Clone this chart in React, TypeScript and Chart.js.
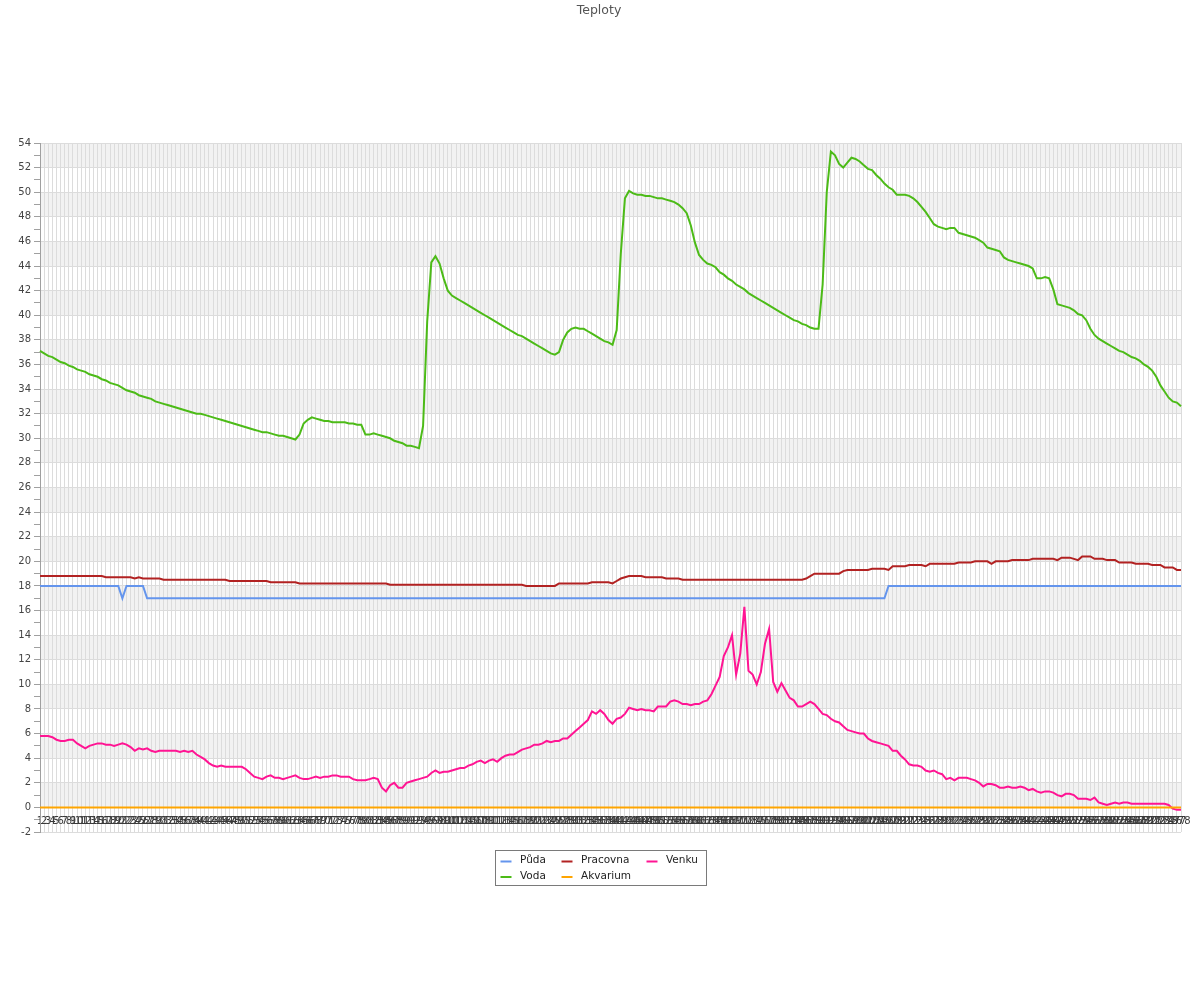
import { useEffect, useRef } from "react";
import { Chart, registerables } from "chart.js";

Chart.register(...registerables);

const TITLE = "Teploty";
const Y_MIN = -2;
const Y_MAX = 54;
const LABELS: string[] = Array.from({ length: 278 }, (_, i) => String(i + 1));

const PUDA: number[] = [
  18, 18, 18, 18, 18, 18, 18, 18, 18, 18, 18, 18, 18, 18, 18, 18, 18, 18, 18, 18,
  17, 18, 18, 18, 18, 18,
  17, 17, 17, 17, 17, 17, 17, 17, 17, 17, 17, 17, 17, 17, 17, 17, 17, 17, 17, 17,
  17, 17, 17, 17, 17, 17, 17, 17, 17, 17, 17, 17, 17, 17, 17, 17, 17, 17, 17, 17,
  17, 17, 17, 17, 17, 17, 17, 17, 17, 17, 17, 17, 17, 17, 17, 17, 17, 17, 17, 17,
  17, 17, 17, 17, 17, 17, 17, 17, 17, 17, 17, 17, 17, 17, 17, 17, 17, 17, 17, 17,
  17, 17, 17, 17, 17, 17, 17, 17, 17, 17, 17, 17, 17, 17, 17, 17, 17, 17, 17, 17,
  17, 17, 17, 17, 17, 17, 17, 17, 17, 17, 17, 17, 17, 17, 17, 17, 17, 17, 17, 17,
  17, 17, 17, 17, 17, 17, 17, 17, 17, 17, 17, 17, 17, 17, 17, 17, 17, 17, 17, 17,
  17, 17, 17, 17, 17, 17, 17, 17, 17, 17, 17, 17, 17, 17, 17, 17, 17, 17, 17, 17,
  17, 17, 17, 17, 17, 17, 17, 17, 17, 17, 17, 17, 17, 17, 17, 17, 17, 17, 17, 17,
  18, 18, 18, 18, 18, 18, 18, 18, 18, 18, 18, 18, 18, 18, 18, 18, 18, 18, 18, 18,
  18, 18, 18, 18, 18, 18, 18, 18, 18, 18, 18, 18, 18, 18, 18, 18, 18, 18, 18, 18,
  18, 18, 18, 18, 18, 18, 18, 18, 18, 18, 18, 18, 18, 18, 18, 18, 18, 18, 18, 18,
  18, 18, 18, 18, 18, 18, 18, 18, 18, 18, 18, 18,
];

const VODA: number[] = [
  37.1, 36.9, 36.7, 36.6, 36.4, 36.2, 36.1, 35.9, 35.8, 35.6, 35.5,
  35.4, 35.2, 35.1, 35.0, 34.8, 34.7, 34.5, 34.4, 34.3, 34.1,
  33.9, 33.8, 33.7, 33.5, 33.4, 33.3, 33.2, 33.0, 32.9, 32.8,
  32.7, 32.6, 32.5, 32.4, 32.3, 32.2, 32.1, 32.0, 32.0, 31.9,
  31.8, 31.7, 31.6, 31.5, 31.4, 31.3, 31.2, 31.1, 31.0, 30.9,
  30.8, 30.7, 30.6, 30.5, 30.5, 30.4, 30.3, 30.2, 30.2, 30.1,
  30.0, 29.9, 30.3, 31.2, 31.5, 31.7, 31.6, 31.5, 31.4, 31.4,
  31.3, 31.3, 31.3, 31.3, 31.2, 31.2, 31.1, 31.1, 30.3, 30.3,
  30.4, 30.3, 30.2, 30.1, 30.0, 29.8, 29.7, 29.6, 29.4, 29.4,
  29.3, 29.2, 31.0, 39.5, 44.3, 44.8, 44.2, 43.0, 42.0, 41.6,
  41.4, 41.2, 41.0, 40.8, 40.6, 40.4, 40.2, 40.0, 39.8, 39.6,
  39.4, 39.2, 39.0, 38.8, 38.6, 38.4, 38.3, 38.1, 37.9, 37.7,
  37.5, 37.3, 37.1, 36.9, 36.8, 37.0, 38.0, 38.6, 38.9, 39.0,
  38.9, 38.9, 38.7, 38.5, 38.3, 38.1, 37.9, 37.8, 37.6, 38.8,
  45.0, 49.5, 50.1, 49.9, 49.8, 49.8, 49.7, 49.7, 49.6, 49.5,
  49.5, 49.4, 49.3, 49.2, 49.0, 48.7, 48.3, 47.3, 45.9, 44.9,
  44.5, 44.2, 44.1, 43.9, 43.5, 43.3, 43.0, 42.8, 42.5, 42.3,
  42.1, 41.8, 41.6, 41.4, 41.2, 41.0, 40.8, 40.6, 40.4, 40.2,
  40.0, 39.8, 39.6, 39.5, 39.3, 39.2, 39.0, 38.9, 38.9, 42.5,
  50.0, 53.3, 53.0, 52.3, 52.0, 52.4, 52.8, 52.7, 52.5, 52.2,
  51.9, 51.8, 51.4, 51.1, 50.7, 50.4, 50.2, 49.8, 49.8, 49.8,
  49.7, 49.5, 49.2, 48.8, 48.4, 47.9, 47.4, 47.2, 47.1, 47.0,
  47.1, 47.1, 46.7, 46.6, 46.5, 46.4, 46.3, 46.1, 45.9, 45.5,
  45.4, 45.3, 45.2, 44.7, 44.5, 44.4, 44.3, 44.2, 44.1, 44.0,
  43.8, 43.0, 43.0, 43.1, 43.0, 42.1, 40.9, 40.8, 40.7, 40.6,
  40.4, 40.1, 40.0, 39.6, 38.9, 38.4, 38.1, 37.9, 37.7, 37.5,
  37.3, 37.1, 37.0, 36.8, 36.6, 36.5, 36.3, 36.0, 35.8, 35.5,
  35.0, 34.3, 33.8, 33.3, 33.0, 32.9, 32.6,
];

const PRACOVNA: number[] = [
  18.8, 18.8, 18.8, 18.8, 18.8, 18.8, 18.8, 18.8, 18.8, 18.8, 18.8, 18.8, 18.8, 18.8, 18.8, 18.8,
  18.7, 18.7, 18.7, 18.7, 18.7, 18.7, 18.7, 18.6, 18.7, 18.6, 18.6, 18.6, 18.6, 18.6,
  18.5, 18.5, 18.5, 18.5, 18.5, 18.5, 18.5, 18.5, 18.5, 18.5, 18.5, 18.5, 18.5, 18.5, 18.5, 18.5,
  18.4, 18.4, 18.4, 18.4, 18.4, 18.4, 18.4, 18.4, 18.4, 18.4,
  18.3, 18.3, 18.3, 18.3, 18.3, 18.3, 18.3,
  18.2, 18.2, 18.2, 18.2, 18.2, 18.2, 18.2, 18.2, 18.2, 18.2, 18.2,
  18.2, 18.2, 18.2, 18.2, 18.2, 18.2, 18.2, 18.2, 18.2, 18.2, 18.2,
  18.1, 18.1, 18.1, 18.1, 18.1, 18.1, 18.1, 18.1, 18.1, 18.1, 18.1,
  18.1, 18.1, 18.1, 18.1, 18.1, 18.1, 18.1, 18.1, 18.1, 18.1, 18.1,
  18.1, 18.1, 18.1, 18.1, 18.1, 18.1, 18.1, 18.1, 18.1, 18.1, 18.1,
  18.0, 18.0, 18.0, 18.0, 18.0, 18.0, 18.0, 18.0,
  18.2, 18.2, 18.2, 18.2, 18.2, 18.2, 18.2, 18.2,
  18.3, 18.3, 18.3, 18.3, 18.3, 18.2,
  18.4, 18.6, 18.7, 18.8, 18.8, 18.8, 18.8,
  18.7, 18.7, 18.7, 18.7, 18.7, 18.6, 18.6, 18.6, 18.6,
  18.5, 18.5, 18.5, 18.5, 18.5, 18.5, 18.5, 18.5, 18.5, 18.5,
  18.5, 18.5, 18.5, 18.5, 18.5, 18.5, 18.5, 18.5, 18.5, 18.5,
  18.5, 18.5, 18.5, 18.5, 18.5, 18.5, 18.5, 18.5, 18.5, 18.5, 18.6,
  18.8, 19.0, 19.0, 19.0, 19.0, 19.0, 19.0, 19.0, 19.2,
  19.3, 19.3, 19.3, 19.3, 19.3, 19.3, 19.4, 19.4, 19.4, 19.4, 19.3,
  19.6, 19.6, 19.6, 19.6, 19.7, 19.7, 19.7, 19.7, 19.6,
  19.8, 19.8, 19.8, 19.8, 19.8, 19.8, 19.8, 19.9, 19.9, 19.9, 19.9,
  20.0, 20.0, 20.0, 20.0, 19.8, 20.0, 20.0, 20.0, 20.0,
  20.1, 20.1, 20.1, 20.1, 20.1, 20.2, 20.2, 20.2, 20.2, 20.2, 20.2, 20.1,
  20.3, 20.3, 20.3, 20.2, 20.1, 20.4, 20.4, 20.4, 20.2, 20.2, 20.2,
  20.1, 20.1, 20.1, 19.9, 19.9, 19.9, 19.9, 19.8, 19.8, 19.8, 19.8,
  19.7, 19.7, 19.7, 19.5, 19.5, 19.5, 19.3, 19.3,
];

const AKVARIUM: number[] = [
  0, 0, 0, 0, 0, 0, 0, 0, 0, 0, 0, 0, 0, 0, 0, 0, 0, 0, 0, 0,
  0, 0, 0, 0, 0, 0, 0, 0, 0, 0, 0, 0, 0, 0, 0, 0, 0, 0, 0, 0,
  0, 0, 0, 0, 0, 0, 0, 0, 0, 0, 0, 0, 0, 0, 0, 0, 0, 0, 0, 0,
  0, 0, 0, 0, 0, 0, 0, 0, 0, 0, 0, 0, 0, 0, 0, 0, 0, 0, 0, 0,
  0, 0, 0, 0, 0, 0, 0, 0, 0, 0, 0, 0, 0, 0, 0, 0, 0, 0, 0, 0,
  0, 0, 0, 0, 0, 0, 0, 0, 0, 0, 0, 0, 0, 0, 0, 0, 0, 0, 0, 0,
  0, 0, 0, 0, 0, 0, 0, 0, 0, 0, 0, 0, 0, 0, 0, 0, 0, 0, 0, 0,
  0, 0, 0, 0, 0, 0, 0, 0, 0, 0, 0, 0, 0, 0, 0, 0, 0, 0, 0, 0,
  0, 0, 0, 0, 0, 0, 0, 0, 0, 0, 0, 0, 0, 0, 0, 0, 0, 0, 0, 0,
  0, 0, 0, 0, 0, 0, 0, 0, 0, 0, 0, 0, 0, 0, 0, 0, 0, 0, 0, 0,
  0, 0, 0, 0, 0, 0, 0, 0, 0, 0, 0, 0, 0, 0, 0, 0, 0, 0, 0, 0,
  0, 0, 0, 0, 0, 0, 0, 0, 0, 0, 0, 0, 0, 0, 0, 0, 0, 0, 0, 0,
  0, 0, 0, 0, 0, 0, 0, 0, 0, 0, 0, 0, 0, 0, 0, 0, 0, 0, 0, 0,
  0, 0, 0, 0, 0, 0, 0, 0, 0, 0, 0, 0, 0, 0, 0, 0, 0, 0,
];

const VENKU: number[] = [
  5.8, 5.8, 5.8, 5.7, 5.5, 5.4, 5.4, 5.5, 5.5, 5.2,
  5.0, 4.8, 5.0, 5.1, 5.2, 5.2, 5.1, 5.1, 5.0, 5.1,
  5.2, 5.1, 4.9, 4.6, 4.8, 4.7, 4.8, 4.6, 4.5, 4.6,
  4.6, 4.6, 4.6, 4.6, 4.5, 4.6, 4.5, 4.6, 4.3, 4.1,
  3.9, 3.6, 3.4, 3.3, 3.4, 3.3, 3.3, 3.3, 3.3, 3.3,
  3.1, 2.8, 2.5, 2.4, 2.3, 2.5, 2.6, 2.4, 2.4, 2.3,
  2.4, 2.5, 2.6, 2.4, 2.3, 2.3, 2.4, 2.5, 2.4, 2.5,
  2.5, 2.6, 2.6, 2.5, 2.5, 2.5, 2.3, 2.2, 2.2, 2.2,
  2.3, 2.4, 2.3, 1.6, 1.3, 1.8, 2.0, 1.6, 1.6, 2.0,
  2.1, 2.2, 2.3, 2.4, 2.5, 2.8, 3.0, 2.8, 2.9, 2.9,
  3.0, 3.1, 3.2, 3.2, 3.4, 3.5, 3.7, 3.8, 3.6, 3.8,
  3.9, 3.7, 4.0, 4.2, 4.3, 4.3, 4.5, 4.7, 4.8, 4.9,
  5.1, 5.1, 5.2, 5.4, 5.3, 5.4, 5.4, 5.6, 5.6, 5.9,
  6.2, 6.5, 6.8, 7.1, 7.8, 7.6, 7.9, 7.6, 7.1, 6.8,
  7.2, 7.3, 7.6, 8.1, 8.0, 7.9, 8.0, 7.9, 7.9, 7.8,
  8.2, 8.2, 8.2, 8.6, 8.7, 8.6, 8.4, 8.4, 8.3, 8.4,
  8.4, 8.6, 8.7, 9.2, 9.9, 10.6, 12.3, 13.0, 14.0, 10.8,
  12.5, 16.3, 11.1, 10.8, 10.0, 11.0, 13.3, 14.5, 10.2, 9.4,
  10.1, 9.5, 8.9, 8.7, 8.2, 8.2, 8.4, 8.6, 8.4, 8.0,
  7.6, 7.5, 7.2, 7.0, 6.9, 6.6, 6.3, 6.2, 6.1, 6.0,
  6.0, 5.6, 5.4, 5.3, 5.2, 5.1, 5.0, 4.6, 4.6, 4.2,
  3.9, 3.5, 3.4, 3.4, 3.3, 3.0, 2.9, 3.0, 2.8, 2.7,
  2.3, 2.4, 2.2, 2.4, 2.4, 2.4, 2.3, 2.2, 2.0, 1.7,
  1.9, 1.9, 1.8, 1.6, 1.6, 1.7, 1.6, 1.6, 1.7, 1.6,
  1.4, 1.5, 1.3, 1.2, 1.3, 1.3, 1.2, 1.0, 0.9, 1.1,
  1.1, 1.0, 0.7, 0.7, 0.7, 0.6, 0.8, 0.4, 0.3, 0.2,
  0.3, 0.4, 0.3, 0.4, 0.4, 0.3, 0.3, 0.3, 0.3, 0.3,
  0.3, 0.3, 0.3, 0.3, 0.2, -0.1, -0.2, -0.2,
];

const SERIES_NAMES = ["Půda", "Voda", "Pracovna", "Akvarium", "Venku"];
const SERIES_COLORS = ["#6495ED", "#4CBB17", "#B22222", "#FFA500", "#FF1493"];
const SERIES_DATA = [PUDA, VODA, PRACOVNA, AKVARIUM, VENKU];

const FONT = '"DejaVu Sans", Verdana, sans-serif';

const bandsPlugin = {
  id: "bands",
  beforeDraw(chart: any) {
    const { ctx, chartArea, scales } = chart;
    const y = scales.y;
    ctx.save();
    ctx.fillStyle = "#ffffff";
    ctx.fillRect(0, 0, chart.width, chart.height);
    ctx.fillStyle = "#f2f2f2";
    for (let v = Y_MIN; v < Y_MAX; v += 2) {
      if (((v - Y_MIN) / 2) % 2 === 1) {
        const top = y.getPixelForValue(v + 2);
        const bot = y.getPixelForValue(v);
        ctx.fillRect(chartArea.left, top, chartArea.right - chartArea.left, bot - top);
      }
    }
    ctx.restore();
  },
};

const titleLegendPlugin = {
  id: "titleLegend",
  afterDraw(chart: any) {
    const ctx = chart.ctx;
    ctx.save();
    ctx.font = `12.5px ${FONT}`;
    ctx.fillStyle = "#555";
    ctx.textAlign = "center";
    ctx.textBaseline = "middle";
    ctx.fillText(TITLE, 599, 11);
    ctx.strokeStyle = "#7a7a7a";
    ctx.lineWidth = 1;
    ctx.strokeRect(495.5, 850.5, 211, 35);
    const colX = [500.5, 561.5, 646.5];
    const rowY = [861.5, 877];
    ctx.font = `10.5px ${FONT}`;
    ctx.textAlign = "left";
    SERIES_NAMES.forEach((name, i) => {
      const col = Math.floor(i / 2);
      const row = i % 2;
      const x = colX[col];
      const yy = rowY[row];
      ctx.strokeStyle = SERIES_COLORS[i];
      ctx.lineWidth = 2;
      ctx.beginPath();
      ctx.moveTo(x, yy);
      ctx.lineTo(x + 11, yy);
      ctx.stroke();
      ctx.fillStyle = "#222";
      ctx.fillText(name, x + 19.5, yy - 1);
    });
    ctx.restore();
  },
};

export default function App() {
  const canvasRef = useRef<HTMLCanvasElement | null>(null);

  useEffect(() => {
    if (!canvasRef.current) return;
    const chart = new Chart(canvasRef.current, {
      type: "line",
      data: {
        labels: LABELS,
        datasets: SERIES_NAMES.map((name, i) => ({
          label: name,
          data: SERIES_DATA[i],
          borderColor: SERIES_COLORS[i],
          backgroundColor: SERIES_COLORS[i],
          borderWidth: 2,
          pointRadius: 0,
          tension: 0,
          fill: false,
        })),
      },
      options: {
        animation: false,
        responsive: false,
        layout: { padding: { left: 0, top: 143, right: 19, bottom: 168 } },
        plugins: {
          legend: { display: false },
          title: { display: false },
          tooltip: { enabled: false },
        },
        scales: {
          x: {
            type: "category",
            position: { y: 0 } as any,
            offset: false,
            border: { display: false },
            grid: { color: "#dcdcdc", lineWidth: 1, drawTicks: false },
            ticks: {
              autoSkip: false,
              maxRotation: 0,
              minRotation: 0,
              padding: 8,
              color: "#3a3a3a",
              font: { family: FONT, size: 10 },
            },
          },
          y: {
            min: Y_MIN,
            max: Y_MAX,
            afterFit: (s: any) => {
              s.width = 40;
            },
            border: { color: "#a0a0a0" },
            grid: {
              color: (c: any) =>
                c.tick && c.tick.value % 2 === 0 ? "#dcdcdc" : "rgba(0,0,0,0)",
              tickColor: "#a0a0a0",
              tickLength: 6,
            },
            ticks: {
              stepSize: 1,
              autoSkip: false,
              padding: 3,
              color: "#444",
              font: { family: FONT, size: 10 },
              callback: (v: any) => (Number(v) % 2 === 0 ? String(v) : ""),
            },
          },
        },
      },
      plugins: [bandsPlugin, titleLegendPlugin],
    });
    return () => chart.destroy();
  }, []);

  return (
    <div style={{ position: "absolute", left: 0, top: 0, width: 1200, height: 1000 }}>
      <canvas ref={canvasRef} width={1200} height={1000} style={{ display: "block" }} />
    </div>
  );
}
